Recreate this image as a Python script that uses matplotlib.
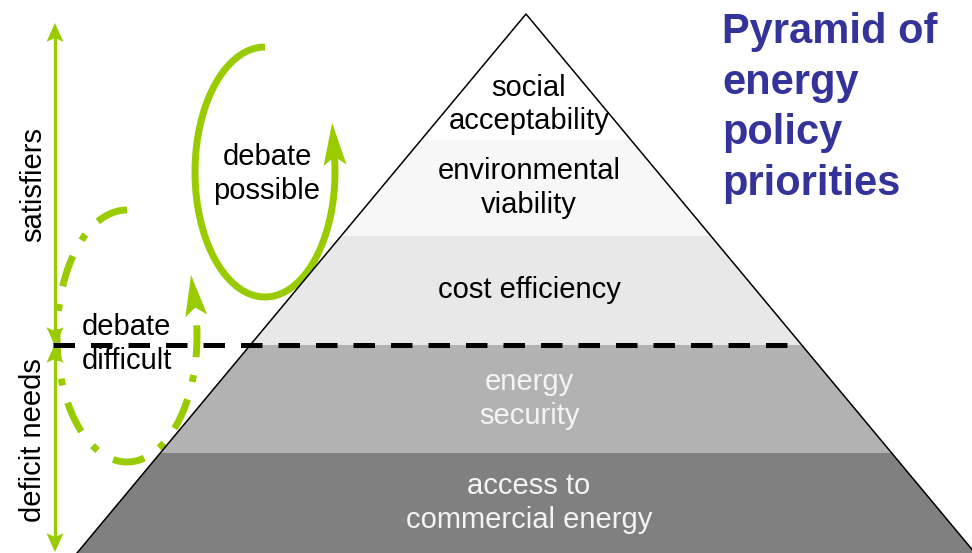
import numpy as np
import matplotlib.pyplot as plt
from matplotlib.patches import Polygon

plt.rcParams['font.family'] = ['Liberation Sans', 'DejaVu Sans']

GREEN = "#99cc00"

# pyramid layers, top to bottom (pixel rows of the layer edges)
layer_labels = ["social\nacceptability", "environmental\nviability", "cost efficiency",
                "energy\nsecurity", "access to\ncommercial energy"]
layer_edges = [14, 140, 236, 345, 453, 553]
layer_colors = ["#ffffff", "#f7f7f7", "#e8e8e8", "#b2b2b2", "#808080"]
label_colors = ["black", "black", "black", "#f4f4f4", "#f4f4f4"]

title = "Pyramid of\nenergy\npolicy\npriorities"

apex_x = 526
slope = 0.833   # half-width growth per pixel row


def half_width(y):
    return slope * (y - layer_edges[0])


def arrow_head(ax, base, direction, length, width, color, back=0.25, z=6):
    d = np.asarray(direction, float)
    d = d / np.hypot(*d)
    n = np.array([-d[1], d[0]])
    b = np.asarray(base, float)
    tip = b + length * d
    pts = [tip, b - back * length * d + width / 2 * n, b, b - back * length * d - width / 2 * n]
    ax.add_patch(Polygon(pts, closed=True, fc=color, ec='none', zorder=z))


fig = plt.figure(figsize=(9.72, 5.53), dpi=100)
ax = fig.add_axes([0, 0, 1, 1])
ax.set_xlim(0, 972)
ax.set_ylim(553, 0)
ax.axis('off')

# pyramid bands
for i, lab in enumerate(layer_labels):
    y0, y1 = layer_edges[i], layer_edges[i + 1]
    pts = [(apex_x - half_width(y0), y0), (apex_x + half_width(y0), y0),
           (apex_x + half_width(y1), y1), (apex_x - half_width(y1), y1)]
    ax.add_patch(Polygon(pts, closed=True, fc=layer_colors[i], ec='none', zorder=1))
    frac = 0.72 if i == 0 else 0.5
    ax.text(apex_x + 3, y0 + frac * (y1 - y0), lab, ha='center', va='center',
            fontsize=21, color=label_colors[i], linespacing=1.25, zorder=8)

# pyramid sides
yb = layer_edges[-1]
ax.plot([apex_x - half_width(yb), apex_x, apex_x + half_width(yb)],
        [yb, layer_edges[0], yb], color='black', lw=1.1, zorder=7)

# solid loop: debate possible
t = np.radians(np.linspace(90, 367, 300))
cx, cy, a, b = 265, 172, 70, 125
ax.plot(cx + a * np.cos(t), cy - b * np.sin(t), color=GREEN, lw=5,
        solid_capstyle='butt', zorder=5)
arrow_head(ax, (cx + a * np.cos(t[-1]), cy - b * np.sin(t[-1])),
           (-a * np.sin(t[-1]), -b * np.cos(t[-1])), 34, 23, GREEN)

# dash-dot loop: debate difficult
t = np.radians(np.linspace(90, 373, 300))
cx, cy, a, b = 127, 336, 70, 126
ax.plot(cx + a * np.cos(t), cy - b * np.sin(t), color=GREEN, lw=5,
        linestyle=(0, (4.6, 2.6, 1.0, 2.6)), dash_capstyle='butt', zorder=5)
arrow_head(ax, (cx + a * np.cos(t[-1]), cy - b * np.sin(t[-1])),
           (-a * np.sin(t[-1]), -b * np.cos(t[-1])), 33, 22, GREEN)

# divider between needs and satisfiers
ax.plot([53, apex_x + half_width(layer_edges[3])], [layer_edges[3]] * 2,
        color='black', lw=3.6, linestyle=(0, (4.3, 3.2)), dash_capstyle='butt', zorder=9)

# vertical double arrows
for top, bot in [(24, 345), (345, 551)]:
    ax.plot([55, 55], [top + 14, bot - 14], color=GREEN, lw=2.4, zorder=5)
    arrow_head(ax, (55, top + 14), (0, -1), 15, 17, GREEN)
    arrow_head(ax, (55, bot - 14), (0, 1), 15, 17, GREEN)

ax.text(33, 185, "satisfiers", rotation=90, ha='center', va='center', fontsize=21)
ax.text(33, 440, "deficit needs", rotation=90, ha='center', va='center', fontsize=21)
ax.text(82, 344, "debate\ndifficult", ha='left', va='center', fontsize=21,
        linespacing=1.25, zorder=10)
ax.text(267, 174, "debate\npossible", ha='center', va='center', fontsize=21,
        linespacing=1.25, zorder=10)

ax.text(722, 108, title, ha='left', va='center', fontsize=30, fontweight='bold',
        color='#333399', linespacing=1.34)

fig.savefig("out.png", dpi=100)
